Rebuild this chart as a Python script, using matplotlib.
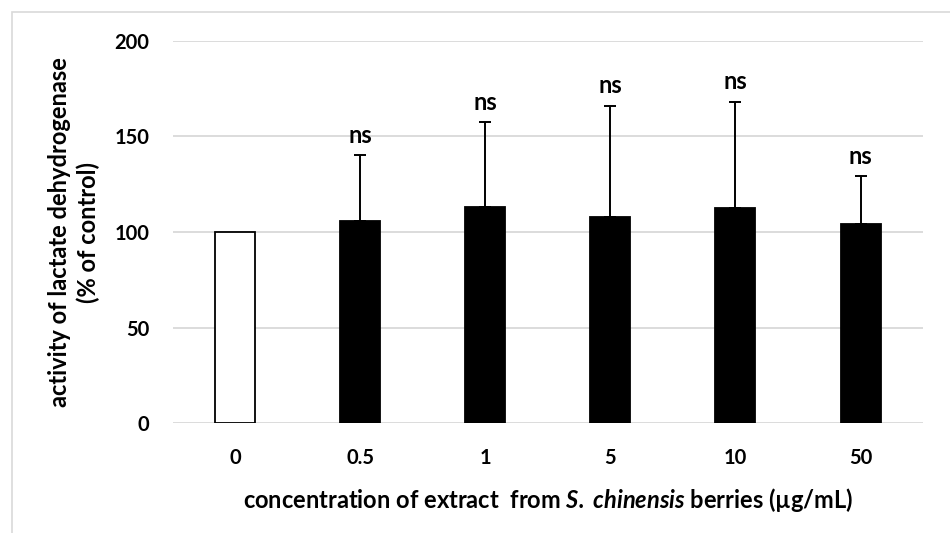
import numpy as np
import matplotlib.pyplot as plt
from matplotlib.patches import Rectangle

plt.rcParams['font.family'] = ['Lato', 'DejaVu Sans']
plt.rcParams['font.weight'] = 'bold'
plt.rcParams['mathtext.fontset'] = 'custom'
plt.rcParams['mathtext.bfit'] = 'Lato:italic:bold'
plt.rcParams['mathtext.rm'] = 'Lato:bold'

# data
concentrations = ['0', '0.5', '1', '5', '10', '50']
activity = [100, 105.9, 113.2, 107.7, 112.4, 104.3]
err_upper = [0, 34.4, 44.3, 58.3, 55.7, 25.0]
signif = ['', 'ns', 'ns', 'ns', 'ns', 'ns']

fig = plt.figure(figsize=(9.5, 5.33), dpi=100)
ax = fig.add_axes([0.182, 0.2058, 0.7896, 0.7178])

# light gray frame (only top and left edges visible in the reference)
fig.patches.append(Rectangle((12 / 950, -0.1), 1.2, 1 - 12 / 533 + 0.1,
                             transform=fig.transFigure, fill=False,
                             edgecolor='#d9d9d9', linewidth=1.2))

x = np.arange(len(concentrations))
colors = ['white'] + ['black'] * (len(x) - 1)
ax.bar(x, activity, width=0.32, color=colors, edgecolor='black',
       linewidth=1.3, zorder=3)

# upper-only error bars on the treated groups
ax.errorbar(x[1:], activity[1:], yerr=[np.zeros(len(x) - 1), err_upper[1:]],
            fmt='none', ecolor='black', elinewidth=1.4, capsize=4.5,
            capthick=1.4, zorder=4)

for xi, top, e, s in zip(x, activity, err_upper, signif):
    if s:
        ax.annotate(s, (xi, top + e), xytext=(0, 6), textcoords='offset points',
                    ha='center', va='bottom', fontsize=17, fontweight='bold')

ax.set_xlim(-0.5, len(x) - 0.5)
ax.set_ylim(0, 200)
ax.set_yticks([0, 50, 100, 150, 200])
ax.set_xticks(x)
ax.set_xticklabels(concentrations)
ax.yaxis.grid(True, color='#d9d9d9', linewidth=1.3, zorder=0)
ax.set_axisbelow(True)
for sp in ax.spines.values():
    sp.set_visible(False)
ax.tick_params(axis='both', length=0, labelsize=14.5)
ax.tick_params(axis='x', pad=18)
ax.tick_params(axis='y', pad=17)

ax.set_ylabel('activity of lactate dehydrogenase\n(% of control)',
              fontsize=17, fontweight='bold', labelpad=10, linespacing=1.3)
ax.set_xlabel(r'concentration of extract  from $\mathbfit{S.\,chinensis}$ berries (µg/mL)',
              fontsize=17, fontweight='bold', labelpad=13)

fig.savefig('out.png', dpi=100)
